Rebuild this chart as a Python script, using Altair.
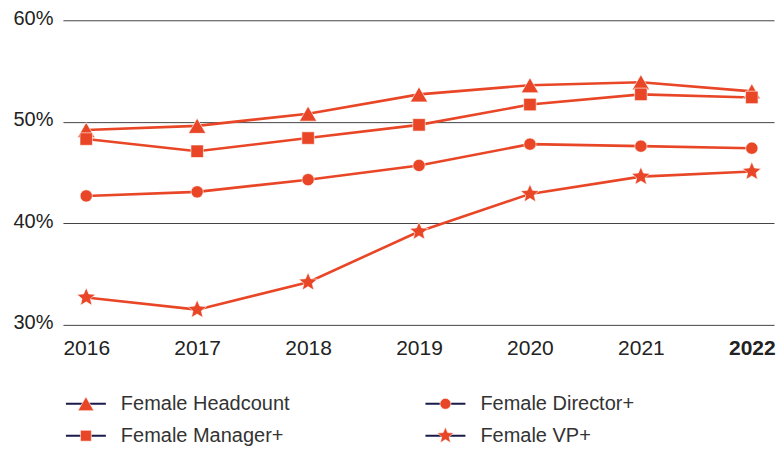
import altair as alt
import pandas as pd

years = [2016, 2017, 2018, 2019, 2020, 2021, 2022]
headcount = [49.2, 49.6, 50.8, 52.7, 53.6, 53.9, 53.0]
manager = [48.3, 47.1, 48.4, 49.7, 51.7, 52.7, 52.4]
director = [42.7, 43.1, 44.3, 45.7, 47.8, 47.6, 47.4]
vp = [32.7, 31.5, 34.2, 39.2, 42.9, 44.6, 45.1]

series_names = ["Female Headcount", "Female Manager+", "Female Director+", "Female VP+"]
STAR = ("M0,-1L0.2645,-0.364L0.951,-0.309L0.428,0.139L0.588,0.809L0,0.45"
        "L-0.588,0.809L-0.428,0.139L-0.951,-0.309L-0.2645,-0.364Z")
series_shapes = ["triangle-up", "square", "circle", STAR]
series_sizes = [300, 156, 150, 380]
legend_sizes = [256, 120, 120, 300]
legend_col = [0, 0, 1, 1]
legend_row = [0, 1, 0, 1]
y_ticks = [30, 40, 50, 60]

ORANGE = "#E84626"
NAVY = "#1B1B4B"
FONT = "Liberation Sans"

rows = []
for name, vals in zip(series_names, [headcount, manager, director, vp]):
    for yr, v in zip(years, vals):
        rows.append({"series": name, "year": yr, "value": v})
df = pd.DataFrame(rows)

legend_df = pd.DataFrame({"series": series_names, "col": legend_col, "row": legend_row})


def marker_layers(base, sizes):
    out = []
    for name, shp, sz in zip(series_names, series_shapes, sizes):
        out.append(
            base.transform_filter(alt.datum.series == name).mark_point(
                shape=shp, size=sz, filled=True, fill=ORANGE, stroke="white",
                strokeWidth=0.6, opacity=1)
        )
    return out


base = alt.Chart(df).encode(
    x=alt.X("year:Q",
            scale=alt.Scale(domain=[2015.79, 2022.2], nice=False, zero=False),
            axis=alt.Axis(values=years, format="d", title=None, grid=False, domain=False,
                          ticks=False, labelFontSize=21, labelFont=FONT, labelColor="#222",
                          labelBaseline="alphabetic", labelPadding=30, labelFlush=False,
                          labelOverlap=False,
                          labelFontWeight=alt.condition("datum.value == 2022",
                                                        alt.value("bold"), alt.value("normal")))),
    y=alt.Y("value:Q",
            scale=alt.Scale(domain=[30, 60], nice=False, zero=False),
            axis=alt.Axis(values=y_ticks, labelExpr="datum.value + '%'", title=None, grid=True,
                          gridColor="#444", domain=False, ticks=False,
                          labelFontSize=20, labelFont=FONT, labelColor="#222",
                          labelPadding=10, labelBaseline="alphabetic", labelOffset=4)),
)

lines = base.mark_line(color=ORANGE, strokeWidth=2.6).encode(detail="series:N")
main = alt.layer(lines, *marker_layers(base, series_sizes)).properties(width=712, height=305)

leg = alt.Chart(legend_df).encode(
    x=alt.X("col:Q", scale=alt.Scale(domain=[-0.0639, 1.9139], nice=False, zero=False), axis=None),
    y=alt.Y("row:Q", scale=alt.Scale(domain=[0, 1], reverse=True, nice=False, zero=False), axis=None),
)
dash = leg.mark_point(shape="M-1,0L1,0", size=1600, stroke=NAVY, strokeWidth=2,
                      filled=False, opacity=1)
label = leg.mark_text(align="left", baseline="middle", dx=35, fontSize=20, font=FONT,
                      color="#333").encode(text="series:N")
legend = alt.layer(dash, *marker_layers(leg, legend_sizes), label).properties(width=712, height=32)

chart = alt.vconcat(main, legend, spacing=35).resolve_scale(
    x="independent", y="independent"
).properties(
    padding={"left": 4, "top": 0, "right": 0, "bottom": 0}
).configure_view(stroke=None)

chart.save("out.html", embed_options={"renderer": "svg", "actions": False})
